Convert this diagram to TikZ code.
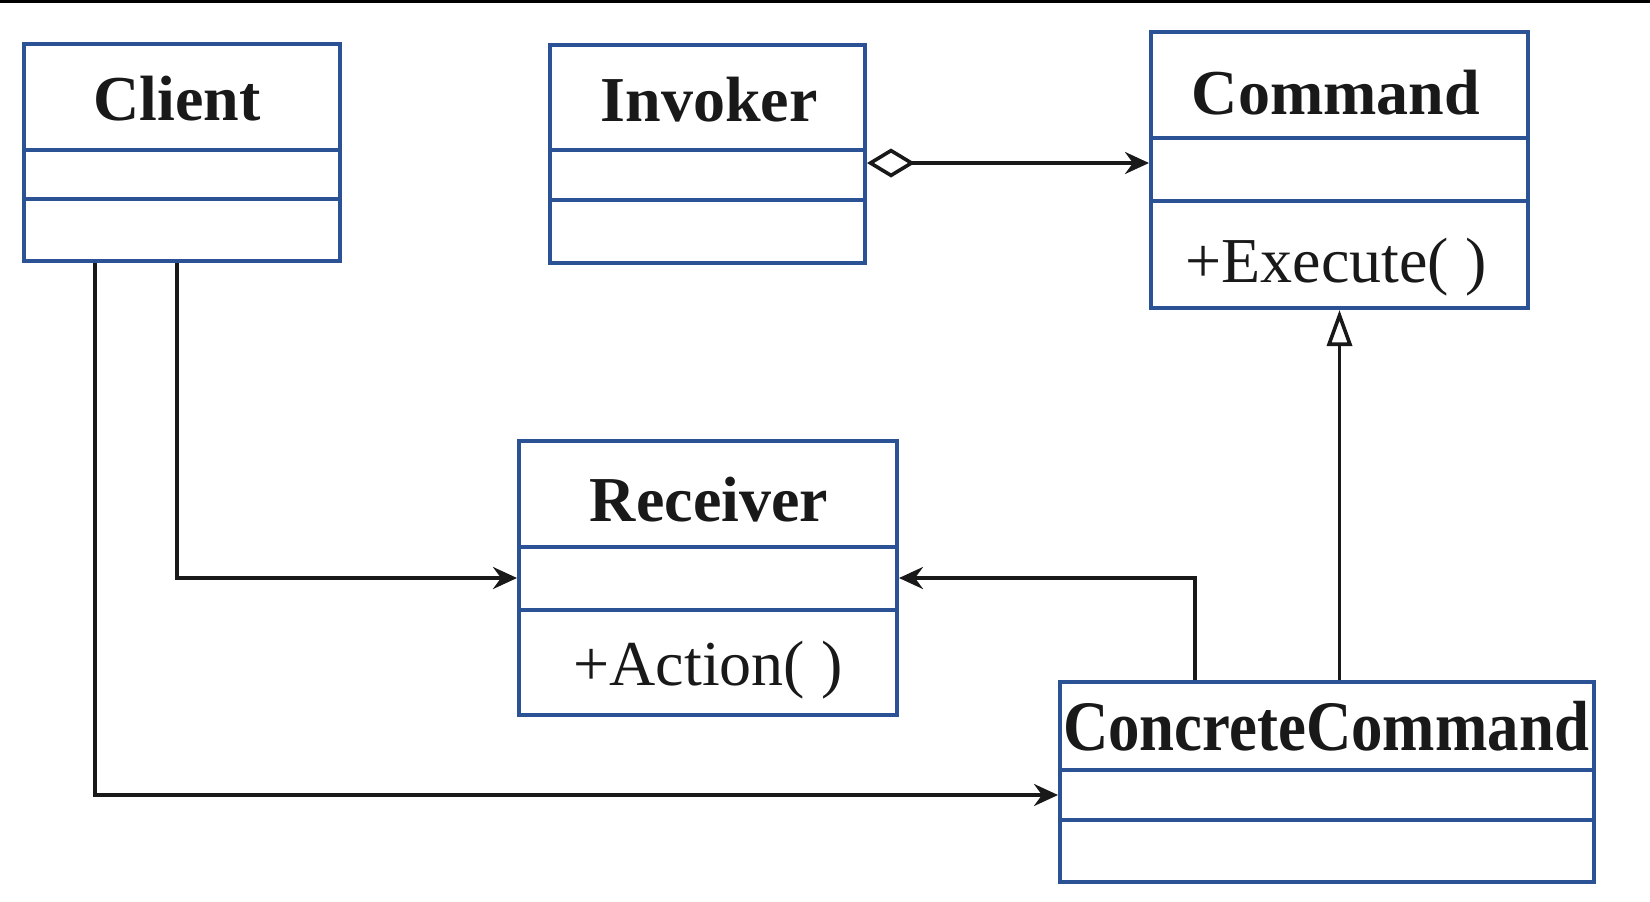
\documentclass[tikz,border=0pt]{standalone}
\usepackage{fontspec}
\setmainfont{Liberation Serif}
\usetikzlibrary{arrows.meta}
\definecolor{umlblue}{RGB}{44,82,150}
\definecolor{ink}{RGB}{25,25,25}
\newcommand\umlclass[7]{%
  \pgfmathsetmacro\cw{(#4-#2)*0.5}%
  \pgfmathsetmacro\ch{(#5-#3)*0.5}%
  \node[classbox, minimum width=\cw pt, minimum height=\ch pt] (#1) at ({(#2+#4)/2},{(#3+#5)/2}) {};
  \draw[divider] (#2,#6) -- (#4,#6);
  \draw[divider] (#2,#7) -- (#4,#7);
}
\begin{document}
\begin{tikzpicture}[x=0.5pt,y=-0.5pt,
  classbox/.style={draw=umlblue, line width=2pt, fill=white, inner sep=0pt},
  divider/.style={draw=umlblue, line width=2pt},
  title/.style={anchor=base, inner sep=0pt, text=ink, font=\fontsize{32}{38}\selectfont\bfseries},
  member/.style={anchor=base, inner sep=0pt, text=ink, font=\fontsize{32}{38}\selectfont},
  conn/.style={draw=ink, line width=1.8pt},
  arr/.style={-{Stealth[length=12pt,width=11pt,inset=4pt]}},
]
\fill[white] (0,0) rectangle (1650,901);
\useasboundingbox (0,0) rectangle (1650,901);
\fill[black] (0,0) rectangle (1650,2.5);

\umlclass{client}{24}{44}{340}{261}{150}{199}
\umlclass{invoker}{550}{45}{865}{263}{150}{200}
\umlclass{command}{1151}{32}{1528}{308}{138}{201}
\umlclass{receiver}{519}{441}{897}{715}{547}{610}
\umlclass{cc}{1060}{682}{1594}{882}{770}{820}

\node[title] (clientT) at (177,120) {Client};
\node[title] (invokerT) at (709,121) {Invoker};
\node[title] (commandT) at (1336,114) {Command};
\node[member] (executeT) at (1336,282) {+Execute( )};
\node[title] (receiverT) at (709,521) {Receiver};
\node[member] (actionT) at (708,685) {+Action( )};
\node[title] (ccT) at (1326,750) {\scalebox{0.885}[1]{\fontsize{35.5}{40}\selectfont ConcreteCommand}};

\draw[conn,arr] (client.south -| 177,0) |- (receiver.west);
\draw[conn,arr] (client.south -| 95,0) |- (cc.west |- 0,795);
\draw[conn,arr] (cc.north -| 1195,0) |- (receiver.east);
\draw[conn,-{Triangle[length=18pt,width=12.5pt,fill=white]}] (cc.north -| command.south) -- (command.south);
\draw[conn,{Diamond[length=24pt,width=14.5pt,fill=white]}-{Stealth[length=12pt,width=11pt,inset=4pt]}] (invoker.east |- 0,163) -- (command.west |- 0,163);
\end{tikzpicture}
\end{document}
